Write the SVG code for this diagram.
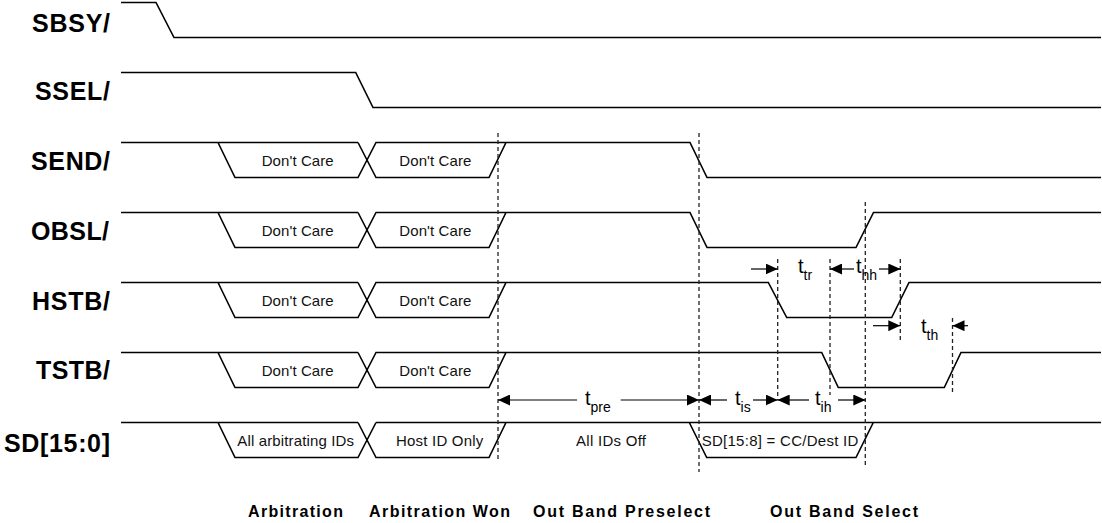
<svg xmlns="http://www.w3.org/2000/svg" width="1102" height="523" viewBox="0 0 1102 523">
<style>
.w{fill:none;stroke:#000;stroke-width:1.6;stroke-linejoin:miter}
.d{fill:none;stroke:#222;stroke-width:1.3;stroke-dasharray:4 3}
.a{fill:none;stroke:#000;stroke-width:1.2}
.lbl{font-family:"Liberation Sans",Arial,sans-serif;font-weight:bold;font-size:25px;fill:#000}
.ph{font-family:"Liberation Sans",Arial,sans-serif;font-weight:bold;font-size:16px;fill:#000}
.dc{font-family:"Liberation Sans",Arial,sans-serif;font-size:15px;fill:#111}
.t{font-family:"Liberation Sans",Arial,sans-serif;font-size:20px;fill:#000}
.s{font-size:14px}
</style>
<defs>
<marker id="ah" viewBox="0 0 12 11" refX="12" refY="5.5" markerWidth="12" markerHeight="11" markerUnits="userSpaceOnUse" orient="auto">
<path d="M0,0 L12,5.5 L0,11 z" fill="#000"/>
</marker>
</defs>
<rect width="1102" height="523" fill="#fff"/>
<g id="sbsy">
<text class="lbl" x="32" y="32" textLength="78" lengthAdjust="spacing">SBSY/</text>
<path class="w" d="M121,2.5 H156 L174,37.5 H1101"/>
</g>
<g id="ssel">
<text class="lbl" x="35" y="100" textLength="75" lengthAdjust="spacing">SSEL/</text>
<path class="w" d="M121,72.5 H355.7 L373,107.5 H1101"/>
</g>
<g id="send">
<text class="lbl" x="31" y="170" textLength="79" lengthAdjust="spacing">SEND/</text>
<path class="w" d="M121,142.5 H358 M218,142.5 L235,177.5 H358 L376,142.5 H690 L707,177.5 H1101 M358,142.5 L376,177.5 H489 L506,142.5"/>
<text class="dc" x="261.7" y="166" textLength="72" lengthAdjust="spacing">Don't Care</text>
<text class="dc" x="399.3" y="166" textLength="72" lengthAdjust="spacing">Don't Care</text>
</g>
<g id="obsl">
<text class="lbl" x="31" y="240" textLength="78" lengthAdjust="spacing">OBSL/</text>
<path class="w" d="M121,212.5 H358 M218,212.5 L235,247.5 H358 L376,212.5 H690 L707,247.5 H856 L873.5,212.5 H1101 M358,212.5 L376,247.5 H489 L506,212.5"/>
<text class="dc" x="261.7" y="236" textLength="72" lengthAdjust="spacing">Don't Care</text>
<text class="dc" x="399.3" y="236" textLength="72" lengthAdjust="spacing">Don't Care</text>
</g>
<g id="hstb">
<text class="lbl" x="32" y="310" textLength="78" lengthAdjust="spacing">HSTB/</text>
<path class="w" d="M121,282.5 H358 M218,282.5 L235,317.5 H358 L376,282.5 H768.3 L786.7,317.5 H891.7 L909,282.5 H1101 M358,282.5 L376,317.5 H489 L506,282.5"/>
<text class="dc" x="261.7" y="306" textLength="72" lengthAdjust="spacing">Don't Care</text>
<text class="dc" x="399.3" y="306" textLength="72" lengthAdjust="spacing">Don't Care</text>
</g>
<g id="tstb">
<text class="lbl" x="36" y="379" textLength="74" lengthAdjust="spacing">TSTB/</text>
<path class="w" d="M121,352.5 H358 M218,352.5 L235,387.5 H358 L376,352.5 H821.7 L838.3,387.5 H944.3 L961,352.5 H1101 M358,352.5 L376,387.5 H489 L506,352.5"/>
<text class="dc" x="261.7" y="376" textLength="72" lengthAdjust="spacing">Don't Care</text>
<text class="dc" x="399.3" y="376" textLength="72" lengthAdjust="spacing">Don't Care</text>
</g>
<g id="sd">
<text class="lbl" x="4" y="452" textLength="106" lengthAdjust="spacing">SD[15:0]</text>
<path class="w" d="M121,422.5 H358 M376,422.5 H1101 M218,422.5 L235,457.5 H358 L376,422.5 M358,422.5 L376,457.5 H489 L506,422.5 M689.3,422.5 L706.7,457.5 H856 L873.3,422.5"/>
<text class="dc" x="237.3" y="446" textLength="116.7" lengthAdjust="spacing">All arbitrating IDs</text>
<text class="dc" x="396" y="446" textLength="87.3" lengthAdjust="spacing">Host ID Only</text>
<text class="dc" x="576" y="446" textLength="70" lengthAdjust="spacing">All IDs Off</text>
<text class="dc" x="701.7" y="446" textLength="156.6" lengthAdjust="spacing">SD[15:8] = CC/Dest ID</text>
</g>
<g id="phases">
<text class="ph" x="248" y="516.5" textLength="95" lengthAdjust="spacing">Arbitration</text>
<text class="ph" x="369" y="516.5" textLength="141" lengthAdjust="spacing">Arbitration Won</text>
<text class="ph" x="533" y="516.5" textLength="177" lengthAdjust="spacing">Out Band Preselect</text>
<text class="ph" x="770" y="516.5" textLength="148" lengthAdjust="spacing">Out Band Select</text>
</g>
<g id="connectors">
<path class="d" d="M498,133 V462"/>
<path class="d" d="M699,133 V472"/>
<path class="d" d="M777.7,259 V400"/>
<path class="d" d="M830,259 V395"/>
<path class="d" d="M865.3,202 V466"/>
<path class="d" d="M900.3,259 V342"/>
<path class="d" d="M952.5,318 V394"/>
<path class="a" marker-end="url(#ah)" d="M751,269 H777.7"/>
<path class="a" marker-end="url(#ah)" d="M854,269 H830"/>
<path class="a" marker-end="url(#ah)" d="M879,269 H900.3"/>
<path class="a" marker-end="url(#ah)" d="M873,325.7 H900.3"/>
<path class="a" marker-end="url(#ah)" d="M968,325.7 H952.5"/>
<path class="a" marker-end="url(#ah)" d="M577,400 H498"/>
<path class="a" marker-end="url(#ah)" d="M620.7,400 H699"/>
<path class="a" marker-end="url(#ah)" d="M727,400 H699"/>
<path class="a" marker-end="url(#ah)" d="M753,400 H777.7"/>
<path class="a" marker-end="url(#ah)" d="M809,400 H777.7"/>
<path class="a" marker-end="url(#ah)" d="M838,400 H865.3"/>
<text class="t" x="798" y="273">t<tspan class="s" dy="7">tr</tspan></text>
<text class="t" x="856" y="273">t<tspan class="s" dy="7">hh</tspan></text>
<text class="t" x="921" y="333">t<tspan class="s" dy="7">th</tspan></text>
<text class="t" x="585" y="405">t<tspan class="s" dy="7">pre</tspan></text>
<text class="t" x="735" y="405">t<tspan class="s" dy="7">is</tspan></text>
<text class="t" x="815" y="405">t<tspan class="s" dy="7">ih</tspan></text>
</g>
</svg>
